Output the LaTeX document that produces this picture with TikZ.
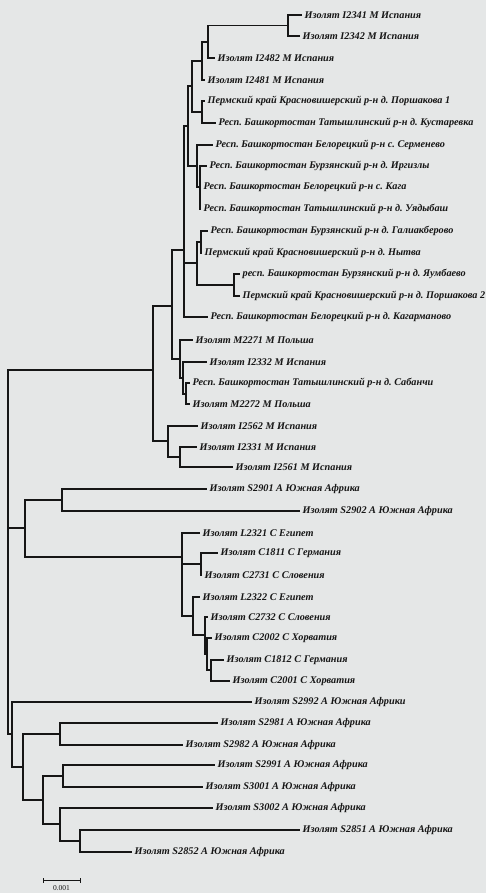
\documentclass[tikz,border=0pt]{standalone}
\usepackage{fontspec}
\setmainfont{Liberation Serif}
\frenchspacing
\definecolor{paper}{RGB}{229,231,231}
\definecolor{ink}{RGB}{22,22,22}
\newcommand{\lblf}{\fontsize{10.25}{12}\selectfont\bfseries\itshape}
\begin{document}
\begin{tikzpicture}[x=1pt,y=-1pt,
  br/.style={line width=1.05pt,draw=ink},
  leaf/.style={anchor=west,inner xsep=2.5pt,inner ysep=0pt,font=\lblf,text=ink},
  scl/.style={font=\fontsize{7.5}{8}\selectfont,text=ink,inner sep=0pt}]
\fill[paper] (0,0) rectangle (486,893);
\useasboundingbox (0,0) rectangle (486,893);
% leaves
\node[leaf] (l1) at (302,15) {Изолят I2341 M Испания};
\node[leaf] (l2) at (300,36) {Изолят I2342 M Испания};
\node[leaf] (l3) at (215,58) {Изолят I2482 M Испания};
\node[leaf] (l4) at (205,80) {Изолят I2481 M Испания};
\node[leaf] (l5) at (205,101) {Пермский край Красновишерский р-н д. Поршакова 1};
\node[leaf] (l6) at (216,123) {Респ. Башкортостан Татышлинский р-н д. Кустаревка};
\node[leaf] (l7) at (213,145) {Респ. Башкортостан Белорецкий р-н с. Серменево};
\node[leaf] (l8) at (207,166) {Респ. Башкортостан Бурзянский р-н д. Иргизлы};
\node[leaf] (l9) at (201,187) {Респ. Башкортостан Белорецкий р-н с. Кага};
\node[leaf] (l10) at (201,209) {Респ. Башкортостан Татышлинский р-н д. Уядыбаш};
\node[leaf] (l11) at (208,231) {Респ. Башкортостан Бурзянский р-н д. Галиакберово};
\node[leaf] (l12) at (202,253) {Пермский край Красновишерский р-н д. Нытва};
\node[leaf] (l13) at (240,274) {респ. Башкортостан Бурзянский р-н д. Яумбаево};
\node[leaf] (l14) at (240,296) {Пермский край Красновишерский р-н д. Поршакова 2};
\node[leaf] (l15) at (208,317) {Респ. Башкортостан Белорецкий р-н д. Кагарманово};
\node[leaf] (l16) at (193,340) {Изолят M2271 M Польша};
\node[leaf] (l17) at (207,362) {Изолят I2332 M Испания};
\node[leaf] (l18) at (190,383) {Респ. Башкортостан Татышлинский р-н д. Сабанчи};
\node[leaf] (l19) at (190,404) {Изолят M2272 M Польша};
\node[leaf] (l20) at (198,426) {Изолят I2562 M Испания};
\node[leaf] (l21) at (197,447) {Изолят I2331 M Испания};
\node[leaf] (l22) at (233,467) {Изолят I2561 M Испания};
\node[leaf] (l23) at (207,489) {Изолят S2901 A Южная Африка};
\node[leaf] (l24) at (300,511) {Изолят S2902 A Южная Африка};
\node[leaf] (l25) at (200,533) {Изолят L2321 C Египет};
\node[leaf] (l26) at (218,553) {Изолят C1811 C Германия};
\node[leaf] (l27) at (202,575) {Изолят C2731 C Словения};
\node[leaf] (l28) at (200,597) {Изолят L2322 C Египет};
\node[leaf] (l29) at (208,617) {Изолят C2732 C Словения};
\node[leaf] (l30) at (212,638) {Изолят C2002 C Хорватия};
\node[leaf] (l31) at (224,660) {Изолят C1812 C Германия};
\node[leaf] (l32) at (230,681) {Изолят C2001 C Хорватия};
\node[leaf] (l33) at (252,702) {Изолят S2992 A Южная Африки};
\node[leaf] (l34) at (218,723) {Изолят S2981 A Южная Африка};
\node[leaf] (l35) at (183,745) {Изолят S2982 A Южная Африка};
\node[leaf] (l36) at (215,765) {Изолят S2991 A Южная Африка};
\node[leaf] (l37) at (203,787) {Изолят S3001 A Южная Африка};
\node[leaf] (l38) at (213,808) {Изолят S3002 A Южная Африка};
\node[leaf] (l39) at (300,830) {Изолят S2851 A Южная Африка};
\node[leaf] (l40) at (132,852) {Изолят S2852 A Южная Африка};
% internal nodes
\coordinate (n1) at (288,25.5);
\coordinate (n2) at (208,42);
\coordinate (n3) at (202,61);
\coordinate (n4) at (202,112);
\coordinate (n5) at (192,86);
\coordinate (n7) at (200,187);
\coordinate (n8) at (197,166);
\coordinate (n11) at (201,242);
\coordinate (n10) at (234,285);
\coordinate (n12) at (197,263);
\coordinate (n13) at (188,126);
\coordinate (n14) at (184,250);
\coordinate (p1) at (186,394);
\coordinate (p2) at (183,378);
\coordinate (p3) at (180,359);
\coordinate (p4) at (172,306);
\coordinate (r1) at (180,457);
\coordinate (r0) at (168,441);
\coordinate (q0) at (153,370);
\coordinate (a1) at (62,500);
\coordinate (c5) at (201,564);
\coordinate (c1) at (211,670);
\coordinate (c2) at (207,654);
\coordinate (c3) at (205,635);
\coordinate (c4) at (193,616);
\coordinate (c6) at (182,557);
\coordinate (ac) at (25,528);
\coordinate (b5) at (60,734);
\coordinate (b3) at (63,776);
\coordinate (b1) at (80,841);
\coordinate (b2) at (60,824);
\coordinate (b4) at (43,800);
\coordinate (b6) at (23,767);
\coordinate (xn) at (12,734);
\coordinate (root) at (8,552);
% branches
\draw[br] (n1) |- (l1.west) (n1) |- (l2.west);
\draw[br] (n2) |- (n1) (n2) |- (l3.west);
\draw[br] (n3) |- (n2) (n3) |- (l4.west);
\draw[br] (n4) |- (l5.west) (n4) |- (l6.west);
\draw[br] (n5) |- (n3) (n5) |- (n4);
\draw[br] (n7) |- (l8.west) (n7) |- (l9.west) (n7) |- (l10.west);
\draw[br] (n8) |- (l7.west) (n8) |- (n7);
\draw[br] (n11) |- (l11.west) (n11) |- (l12.west);
\draw[br] (n10) |- (l13.west) (n10) |- (l14.west);
\draw[br] (n12) |- (n11) (n12) |- (n10);
\draw[br] (n13) |- (n5) (n13) |- (n8);
\draw[br] (n14) |- (n13) (n14) |- (n12) (n14) |- (l15.west);
\draw[br] (p1) |- (l18.west) (p1) |- (l19.west);
\draw[br] (p2) |- (l17.west) (p2) |- (p1);
\draw[br] (p3) |- (l16.west) (p3) |- (p2);
\draw[br] (p4) |- (n14) (p4) |- (p3);
\draw[br] (r1) |- (l21.west) (r1) |- (l22.west);
\draw[br] (r0) |- (l20.west) (r0) |- (r1);
\draw[br] (q0) |- (p4) (q0) |- (r0);
\draw[br] (a1) |- (l23.west) (a1) |- (l24.west);
\draw[br] (c5) |- (l26.west) (c5) |- (l27.west);
\draw[br] (c1) |- (l31.west) (c1) |- (l32.west);
\draw[br] (c2) |- (l30.west) (c2) |- (c1);
\draw[br] (c3) |- (l29.west) (c3) |- (c2);
\draw[br] (c4) |- (l28.west) (c4) |- (c3);
\draw[br] (c6) |- (l25.west) (c6) |- (c5) (c6) |- (c4);
\draw[br] (ac) |- (a1) (ac) |- (c6);
\draw[br] (b5) |- (l34.west) (b5) |- (l35.west);
\draw[br] (b3) |- (l36.west) (b3) |- (l37.west);
\draw[br] (b1) |- (l39.west) (b1) |- (l40.west);
\draw[br] (b2) |- (l38.west) (b2) |- (b1);
\draw[br] (b4) |- (b3) (b4) |- (b2);
\draw[br] (b6) |- (b5) (b6) |- (b4);
\draw[br] (xn) |- (l33.west) (xn) |- (b6);
\draw[br] (root) |- (q0) (root) |- (ac) (root) |- (xn);
% scale bar
\coordinate (sb1) at (43,880);
\coordinate (sb2) at (80,880);
\draw[br,line width=0.8pt] (sb1) -- (sb2);
\draw[br,line width=0.8pt] ([yshift=-2.5pt]sb1) -- ([yshift=2.5pt]sb1);
\draw[br,line width=0.8pt] ([yshift=-2.5pt]sb2) -- ([yshift=2.5pt]sb2);
\node[scl] (sbl) at (61.5,888.5) {0.001};
\end{tikzpicture}
\end{document}
